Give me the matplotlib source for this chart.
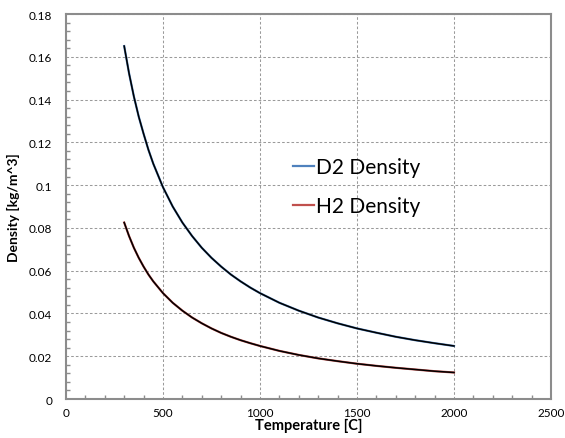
import numpy as np
import matplotlib.pyplot as plt
from matplotlib.ticker import MultipleLocator

plt.rcParams['font.family'] = ['Lato', 'DejaVu Sans']

# Temperature points and densities
temperature = [300, 325, 350, 375, 400, 425, 450, 500, 550, 600, 650, 700, 750, 800, 850,
               900, 950, 1000, 1100, 1200, 1300, 1400, 1500, 1600, 1700, 1800, 1900, 2000]
d2_density = [0.165, 0.1523, 0.1414, 0.132, 0.124, 0.1165, 0.110, 0.099, 0.090, 0.0825,
              0.0762, 0.0707, 0.066, 0.0619, 0.0582, 0.0550, 0.0521, 0.0495, 0.0450,
              0.0413, 0.0381, 0.0354, 0.0330, 0.0310, 0.0291, 0.0275, 0.0261, 0.0248]
h2_density = [0.0825, 0.0762, 0.0707, 0.066, 0.0619, 0.0582, 0.055, 0.0495, 0.045, 0.0413,
              0.0381, 0.0354, 0.033, 0.0309, 0.0291, 0.0275, 0.0261, 0.0248, 0.0225,
              0.0206, 0.0190, 0.0177, 0.0165, 0.0155, 0.0146, 0.0138, 0.0130, 0.0124]
y_labels = ['0', '0.02', '0.04', '0.06', '0.08', '0.1', '0.12', '0.14', '0.16', '0.18']

fig = plt.figure(figsize=(5.65, 4.39), dpi=100)
ax = fig.add_axes([0.1168, 0.0888, 0.8584, 0.877])

# coloured line with a thin dark stroke on top
ax.plot(temperature, d2_density, color='#4f81bd', lw=1.6, label='D2 Density', zorder=3)
ax.plot(temperature, d2_density, color='#000000', lw=1.1, zorder=4)
ax.plot(temperature, h2_density, color='#c0504d', lw=1.6, label='H2 Density', zorder=3)
ax.plot(temperature, h2_density, color='#000000', lw=1.1, zorder=4)

ax.set_xlim(0, 2500)
ax.set_ylim(0, 0.18)
ax.xaxis.set_major_locator(MultipleLocator(500))
ax.xaxis.set_minor_locator(MultipleLocator(100))
ax.yaxis.set_minor_locator(MultipleLocator(0.004))
ax.set_yticks(np.arange(0, 0.181, 0.02))
ax.set_yticklabels(y_labels)

ax.grid(True, which='major', linestyle=(0, (2.5, 2)), color='#9a9a9a', linewidth=0.75)
for s in ax.spines.values():
    s.set_color('#8c8c8c')
    s.set_linewidth(1.5)
ax.tick_params(which='major', length=0, labelsize=8.5)
ax.tick_params(axis='x', which='major', pad=6)
ax.tick_params(axis='y', which='major', pad=10)
ax.tick_params(which='minor', direction='in', length=3, color='#8c8c8c', width=1)

ax.set_xlabel('Temperature [C]', fontsize=10.5, fontweight='bold', labelpad=0)
ax.set_ylabel('Density [kg/m^3]', fontsize=10, fontweight='bold', labelpad=6)

ax.legend(loc='center left', bbox_to_anchor=(0.468, 0.552), frameon=False, fontsize=15,
          handlelength=1.0, handletextpad=0.1, borderpad=0, borderaxespad=0,
          labelspacing=0.9)

fig.savefig('out.png', dpi=100)
